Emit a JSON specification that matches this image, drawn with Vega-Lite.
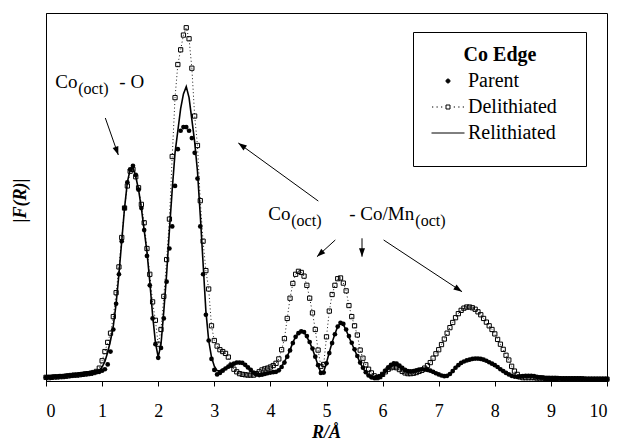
{
  "$schema": "https://vega.github.io/schema/vega-lite/v6.json",
  "width": 561,
  "height": 368,
  "autosize": {"type": "none"},
  "padding": {"left": 46, "top": 13, "right": 12, "bottom": 64},
  "background": "white",
  "config": {
    "view": {"stroke": "black", "strokeWidth": 1},
    "font": "Liberation Serif, Times New Roman, Times, DejaVu Serif, serif",
    "text": {"font": "Liberation Serif, Times New Roman, Times, DejaVu Serif, serif"},
    "axis": {"domainColor": "black", "tickColor": "black", "labelColor": "black", "titleColor": "black", "grid": false,
             "labelFont": "Liberation Serif, Times New Roman, Times, DejaVu Serif, serif",
             "titleFont": "Liberation Serif, Times New Roman, Times, DejaVu Serif, serif"},
    "legend": {"labelFont": "Liberation Serif, Times New Roman, Times, DejaVu Serif, serif",
               "titleFont": "Liberation Serif, Times New Roman, Times, DejaVu Serif, serif"}
  },
  "datasets": {
    "fr": [
      {"R":0,"Parent":1.0,"Delithiated":1.0,"Relithiated":1.0},
      {"R":0.05,"Parent":1.1,"Delithiated":0.9,"Relithiated":1.0},
      {"R":0.1,"Parent":1.1,"Delithiated":1.0,"Relithiated":1.1},
      {"R":0.15,"Parent":1.2,"Delithiated":1.1,"Relithiated":1.1},
      {"R":0.2,"Parent":1.2,"Delithiated":1.1,"Relithiated":1.2},
      {"R":0.25,"Parent":1.3,"Delithiated":1.2,"Relithiated":1.2},
      {"R":0.3,"Parent":1.3,"Delithiated":1.2,"Relithiated":1.3},
      {"R":0.35,"Parent":1.4,"Delithiated":1.3,"Relithiated":1.4},
      {"R":0.4,"Parent":1.5,"Delithiated":1.4,"Relithiated":1.5},
      {"R":0.45,"Parent":1.5,"Delithiated":1.5,"Relithiated":1.5},
      {"R":0.5,"Parent":1.6,"Delithiated":1.6,"Relithiated":1.6},
      {"R":0.55,"Parent":1.7,"Delithiated":1.6,"Relithiated":1.7},
      {"R":0.6,"Parent":1.8,"Delithiated":1.7,"Relithiated":1.8},
      {"R":0.65,"Parent":1.9,"Delithiated":1.8,"Relithiated":1.9},
      {"R":0.7,"Parent":2.0,"Delithiated":1.9,"Relithiated":2.0},
      {"R":0.75,"Parent":2.1,"Delithiated":2.0,"Relithiated":2.1},
      {"R":0.8,"Parent":2.2,"Delithiated":2.1,"Relithiated":2.2},
      {"R":0.85,"Parent":2.3,"Delithiated":2.3,"Relithiated":2.3},
      {"R":0.9,"Parent":2.4,"Delithiated":2.6,"Relithiated":2.5},
      {"R":0.95,"Parent":2.5,"Delithiated":3.5,"Relithiated":3.0},
      {"R":1.0,"Parent":2.8,"Delithiated":5.5,"Relithiated":3.8},
      {"R":1.05,"Parent":3.2,"Delithiated":8,"Relithiated":5.3},
      {"R":1.1,"Parent":4.5,"Delithiated":10.5,"Relithiated":7.8},
      {"R":1.15,"Parent":8,"Delithiated":13,"Relithiated":11},
      {"R":1.2,"Parent":14,"Delithiated":17.5,"Relithiated":15},
      {"R":1.25,"Parent":21,"Delithiated":24,"Relithiated":21},
      {"R":1.3,"Parent":29,"Delithiated":31,"Relithiated":29},
      {"R":1.35,"Parent":38,"Delithiated":39,"Relithiated":38},
      {"R":1.4,"Parent":47,"Delithiated":47,"Relithiated":47},
      {"R":1.45,"Parent":54,"Delithiated":53,"Relithiated":54},
      {"R":1.5,"Parent":57.5,"Delithiated":57,"Relithiated":57.5},
      {"R":1.55,"Parent":58.5,"Delithiated":57.5,"Relithiated":58},
      {"R":1.6,"Parent":56,"Delithiated":55.5,"Relithiated":55.5},
      {"R":1.65,"Parent":52,"Delithiated":52.5,"Relithiated":52},
      {"R":1.7,"Parent":47,"Delithiated":48,"Relithiated":47},
      {"R":1.75,"Parent":41,"Delithiated":43,"Relithiated":41},
      {"R":1.8,"Parent":34,"Delithiated":36,"Relithiated":35},
      {"R":1.85,"Parent":26,"Delithiated":29,"Relithiated":27},
      {"R":1.9,"Parent":17,"Delithiated":21.5,"Relithiated":18},
      {"R":1.95,"Parent":10,"Delithiated":16.5,"Relithiated":10.5},
      {"R":2.0,"Parent":6.3,"Delithiated":10,"Relithiated":6.5},
      {"R":2.05,"Parent":9,"Delithiated":14,"Relithiated":10},
      {"R":2.1,"Parent":17,"Delithiated":23,"Relithiated":19},
      {"R":2.15,"Parent":27,"Delithiated":33,"Relithiated":29},
      {"R":2.2,"Parent":36,"Delithiated":44,"Relithiated":41},
      {"R":2.25,"Parent":42,"Delithiated":61,"Relithiated":52},
      {"R":2.3,"Parent":53,"Delithiated":77,"Relithiated":62},
      {"R":2.35,"Parent":63,"Delithiated":86,"Relithiated":68},
      {"R":2.4,"Parent":68,"Delithiated":90,"Relithiated":74},
      {"R":2.45,"Parent":69,"Delithiated":94,"Relithiated":78},
      {"R":2.5,"Parent":69,"Delithiated":96,"Relithiated":80},
      {"R":2.55,"Parent":68,"Delithiated":93,"Relithiated":77},
      {"R":2.6,"Parent":66,"Delithiated":85,"Relithiated":71},
      {"R":2.65,"Parent":62,"Delithiated":72,"Relithiated":65},
      {"R":2.7,"Parent":55,"Delithiated":64,"Relithiated":57},
      {"R":2.75,"Parent":42,"Delithiated":49,"Relithiated":45},
      {"R":2.8,"Parent":29,"Delithiated":38,"Relithiated":32},
      {"R":2.85,"Parent":18,"Delithiated":30,"Relithiated":19},
      {"R":2.9,"Parent":11,"Delithiated":25,"Relithiated":11},
      {"R":2.95,"Parent":6,"Delithiated":15,"Relithiated":6.5},
      {"R":3.0,"Parent":3,"Delithiated":11,"Relithiated":4},
      {"R":3.05,"Parent":1.8,"Delithiated":9.5,"Relithiated":2.8},
      {"R":3.1,"Parent":2.2,"Delithiated":8.5,"Relithiated":2.8},
      {"R":3.15,"Parent":2.8,"Delithiated":8,"Relithiated":3.2},
      {"R":3.2,"Parent":3.4,"Delithiated":7.5,"Relithiated":3.6},
      {"R":3.25,"Parent":3.9,"Delithiated":6.5,"Relithiated":4},
      {"R":3.3,"Parent":4.3,"Delithiated":4.3,"Relithiated":4.4},
      {"R":3.35,"Parent":4.7,"Delithiated":3.2,"Relithiated":4.8},
      {"R":3.4,"Parent":5,"Delithiated":2.5,"Relithiated":5},
      {"R":3.45,"Parent":5,"Delithiated":2,"Relithiated":5},
      {"R":3.5,"Parent":4.9,"Delithiated":1.8,"Relithiated":4.8},
      {"R":3.55,"Parent":4.4,"Delithiated":1.7,"Relithiated":4.2},
      {"R":3.6,"Parent":3.7,"Delithiated":1.6,"Relithiated":3.5},
      {"R":3.65,"Parent":3,"Delithiated":1.6,"Relithiated":2.8},
      {"R":3.7,"Parent":2.3,"Delithiated":1.6,"Relithiated":2.1},
      {"R":3.75,"Parent":1.8,"Delithiated":2,"Relithiated":1.7},
      {"R":3.8,"Parent":1.6,"Delithiated":2.5,"Relithiated":1.6},
      {"R":3.85,"Parent":1.7,"Delithiated":3,"Relithiated":1.7},
      {"R":3.9,"Parent":1.9,"Delithiated":3.3,"Relithiated":1.9},
      {"R":3.95,"Parent":2.1,"Delithiated":3.5,"Relithiated":2.1},
      {"R":4.0,"Parent":2.3,"Delithiated":3.8,"Relithiated":2.3},
      {"R":4.05,"Parent":2.4,"Delithiated":4.2,"Relithiated":2.4},
      {"R":4.1,"Parent":2.5,"Delithiated":4.8,"Relithiated":2.5},
      {"R":4.15,"Parent":2.9,"Delithiated":6,"Relithiated":3},
      {"R":4.2,"Parent":3.8,"Delithiated":8.5,"Relithiated":4},
      {"R":4.25,"Parent":5,"Delithiated":11.5,"Relithiated":5.2},
      {"R":4.3,"Parent":6.6,"Delithiated":17,"Relithiated":6.8},
      {"R":4.35,"Parent":8.3,"Delithiated":22.5,"Relithiated":8.4},
      {"R":4.4,"Parent":10.3,"Delithiated":26.5,"Relithiated":10.5},
      {"R":4.45,"Parent":12,"Delithiated":29,"Relithiated":12},
      {"R":4.5,"Parent":13,"Delithiated":29.8,"Relithiated":13},
      {"R":4.55,"Parent":13.5,"Delithiated":29.5,"Relithiated":13.4},
      {"R":4.6,"Parent":13.3,"Delithiated":28.5,"Relithiated":13.2},
      {"R":4.65,"Parent":12.2,"Delithiated":26,"Relithiated":12},
      {"R":4.7,"Parent":10.6,"Delithiated":22.5,"Relithiated":10.5},
      {"R":4.75,"Parent":8.8,"Delithiated":18.5,"Relithiated":8.7},
      {"R":4.8,"Parent":6.6,"Delithiated":14,"Relithiated":6.5},
      {"R":4.85,"Parent":4.3,"Delithiated":8.4,"Relithiated":4.2},
      {"R":4.9,"Parent":2.2,"Delithiated":4,"Relithiated":2.2},
      {"R":4.95,"Parent":2.3,"Delithiated":4.5,"Relithiated":2.5},
      {"R":5.0,"Parent":4.8,"Delithiated":12,"Relithiated":5},
      {"R":5.05,"Parent":7.6,"Delithiated":19,"Relithiated":7.8},
      {"R":5.1,"Parent":10.3,"Delithiated":23.5,"Relithiated":10.5},
      {"R":5.15,"Parent":12.7,"Delithiated":26,"Relithiated":12.8},
      {"R":5.2,"Parent":14.8,"Delithiated":27.8,"Relithiated":14.8},
      {"R":5.25,"Parent":15.8,"Delithiated":28,"Relithiated":15.7},
      {"R":5.3,"Parent":15.5,"Delithiated":26.6,"Relithiated":15.3},
      {"R":5.35,"Parent":14,"Delithiated":24.5,"Relithiated":13.8},
      {"R":5.4,"Parent":12.2,"Delithiated":20.5,"Relithiated":12},
      {"R":5.45,"Parent":10.4,"Delithiated":17.5,"Relithiated":10.2},
      {"R":5.5,"Parent":8.6,"Delithiated":15,"Relithiated":8.5},
      {"R":5.55,"Parent":6.8,"Delithiated":12.5,"Relithiated":6.7},
      {"R":5.6,"Parent":5,"Delithiated":8.4,"Relithiated":4.9},
      {"R":5.65,"Parent":3.6,"Delithiated":6.2,"Relithiated":3.5},
      {"R":5.7,"Parent":2.4,"Delithiated":4.4,"Relithiated":2.3},
      {"R":5.75,"Parent":1.5,"Delithiated":3.2,"Relithiated":1.4},
      {"R":5.8,"Parent":1.0,"Delithiated":2.2,"Relithiated":1.0},
      {"R":5.85,"Parent":0.8,"Delithiated":1.4,"Relithiated":0.8},
      {"R":5.9,"Parent":0.9,"Delithiated":0.9,"Relithiated":0.8},
      {"R":5.95,"Parent":1.1,"Delithiated":1.2,"Relithiated":0.9},
      {"R":6.0,"Parent":1.8,"Delithiated":1.8,"Relithiated":1.6},
      {"R":6.05,"Parent":2.8,"Delithiated":2.5,"Relithiated":2.5},
      {"R":6.1,"Parent":3.7,"Delithiated":3.2,"Relithiated":3.3},
      {"R":6.15,"Parent":4.4,"Delithiated":3.6,"Relithiated":4},
      {"R":6.2,"Parent":4.8,"Delithiated":3.8,"Relithiated":4.3},
      {"R":6.25,"Parent":4.7,"Delithiated":3.6,"Relithiated":4.2},
      {"R":6.3,"Parent":4.2,"Delithiated":3.1,"Relithiated":3.7},
      {"R":6.35,"Parent":3.6,"Delithiated":2.6,"Relithiated":3.1},
      {"R":6.4,"Parent":3.0,"Delithiated":2.2,"Relithiated":2.7},
      {"R":6.45,"Parent":2.7,"Delithiated":2,"Relithiated":2.5},
      {"R":6.5,"Parent":2.6,"Delithiated":2,"Relithiated":2.6},
      {"R":6.55,"Parent":2.7,"Delithiated":2.1,"Relithiated":2.8},
      {"R":6.6,"Parent":2.9,"Delithiated":2.3,"Relithiated":3},
      {"R":6.65,"Parent":3.1,"Delithiated":2.6,"Relithiated":3.2},
      {"R":6.7,"Parent":3.2,"Delithiated":2.9,"Relithiated":3.2},
      {"R":6.75,"Parent":3.1,"Delithiated":3.5,"Relithiated":3.2},
      {"R":6.8,"Parent":3.0,"Delithiated":4.2,"Relithiated":3.1},
      {"R":6.85,"Parent":2.8,"Delithiated":5,"Relithiated":3.0},
      {"R":6.9,"Parent":2.5,"Delithiated":6.2,"Relithiated":2.6},
      {"R":6.95,"Parent":2.1,"Delithiated":7.4,"Relithiated":2.2},
      {"R":7.0,"Parent":1.8,"Delithiated":8.5,"Relithiated":1.8},
      {"R":7.05,"Parent":1.5,"Delithiated":9.9,"Relithiated":1.5},
      {"R":7.1,"Parent":1.3,"Delithiated":11.4,"Relithiated":1.3},
      {"R":7.15,"Parent":1.4,"Delithiated":13,"Relithiated":1.4},
      {"R":7.2,"Parent":1.9,"Delithiated":14.5,"Relithiated":2},
      {"R":7.25,"Parent":2.7,"Delithiated":15.9,"Relithiated":2.8},
      {"R":7.3,"Parent":3.6,"Delithiated":17.2,"Relithiated":3.7},
      {"R":7.35,"Parent":4.3,"Delithiated":18.3,"Relithiated":4.4},
      {"R":7.4,"Parent":4.9,"Delithiated":19.2,"Relithiated":4.9},
      {"R":7.45,"Parent":5.3,"Delithiated":19.8,"Relithiated":5.3},
      {"R":7.5,"Parent":5.6,"Delithiated":20.1,"Relithiated":5.6},
      {"R":7.55,"Parent":5.8,"Delithiated":20.1,"Relithiated":5.8},
      {"R":7.6,"Parent":6,"Delithiated":19.9,"Relithiated":6},
      {"R":7.65,"Parent":6.1,"Delithiated":19.5,"Relithiated":6.1},
      {"R":7.7,"Parent":6.1,"Delithiated":18.8,"Relithiated":6.1},
      {"R":7.75,"Parent":6,"Delithiated":18,"Relithiated":6},
      {"R":7.8,"Parent":5.8,"Delithiated":17,"Relithiated":5.8},
      {"R":7.85,"Parent":5.5,"Delithiated":16,"Relithiated":5.4},
      {"R":7.9,"Parent":5.1,"Delithiated":15,"Relithiated":5},
      {"R":7.95,"Parent":4.7,"Delithiated":14,"Relithiated":4.6},
      {"R":8.0,"Parent":4.3,"Delithiated":12.8,"Relithiated":4.2},
      {"R":8.05,"Parent":3.8,"Delithiated":11.3,"Relithiated":3.7},
      {"R":8.1,"Parent":3.2,"Delithiated":10,"Relithiated":3.1},
      {"R":8.15,"Parent":2.7,"Delithiated":8.6,"Relithiated":2.6},
      {"R":8.2,"Parent":2.2,"Delithiated":7,"Relithiated":2.1},
      {"R":8.25,"Parent":1.8,"Delithiated":5.7,"Relithiated":1.7},
      {"R":8.3,"Parent":1.4,"Delithiated":4,"Relithiated":1.3},
      {"R":8.35,"Parent":1.2,"Delithiated":2.7,"Relithiated":1.1},
      {"R":8.4,"Parent":1.1,"Delithiated":1.8,"Relithiated":1.1},
      {"R":8.45,"Parent":1.2,"Delithiated":1.1,"Relithiated":1.2},
      {"R":8.5,"Parent":1.3,"Delithiated":0.9,"Relithiated":1.3},
      {"R":8.55,"Parent":1.4,"Delithiated":0.9,"Relithiated":1.4},
      {"R":8.6,"Parent":1.4,"Delithiated":0.9,"Relithiated":1.4},
      {"R":8.65,"Parent":1.4,"Delithiated":0.9,"Relithiated":1.4},
      {"R":8.7,"Parent":1.3,"Delithiated":0.9,"Relithiated":1.3},
      {"R":8.75,"Parent":1.1,"Delithiated":0.8,"Relithiated":1.1},
      {"R":8.8,"Parent":1.0,"Delithiated":0.8,"Relithiated":1.0},
      {"R":8.85,"Parent":0.9,"Delithiated":0.8,"Relithiated":0.9},
      {"R":8.9,"Parent":0.8,"Delithiated":0.7,"Relithiated":0.8},
      {"R":8.95,"Parent":0.8,"Delithiated":0.7,"Relithiated":0.8},
      {"R":9.0,"Parent":0.7,"Delithiated":0.7,"Relithiated":0.7},
      {"R":9.05,"Parent":0.7,"Delithiated":0.7,"Relithiated":0.7},
      {"R":9.1,"Parent":0.7,"Delithiated":0.7,"Relithiated":0.7},
      {"R":9.15,"Parent":0.7,"Delithiated":0.6,"Relithiated":0.7},
      {"R":9.2,"Parent":0.6,"Delithiated":0.6,"Relithiated":0.6},
      {"R":9.25,"Parent":0.6,"Delithiated":0.6,"Relithiated":0.6},
      {"R":9.3,"Parent":0.6,"Delithiated":0.6,"Relithiated":0.6},
      {"R":9.35,"Parent":0.6,"Delithiated":0.6,"Relithiated":0.6},
      {"R":9.4,"Parent":0.6,"Delithiated":0.6,"Relithiated":0.6},
      {"R":9.45,"Parent":0.6,"Delithiated":0.6,"Relithiated":0.6},
      {"R":9.5,"Parent":0.6,"Delithiated":0.6,"Relithiated":0.6},
      {"R":9.55,"Parent":0.6,"Delithiated":0.6,"Relithiated":0.6},
      {"R":9.6,"Parent":0.6,"Delithiated":0.5,"Relithiated":0.6},
      {"R":9.65,"Parent":0.5,"Delithiated":0.5,"Relithiated":0.5},
      {"R":9.7,"Parent":0.5,"Delithiated":0.5,"Relithiated":0.5},
      {"R":9.75,"Parent":0.5,"Delithiated":0.5,"Relithiated":0.5},
      {"R":9.8,"Parent":0.5,"Delithiated":0.5,"Relithiated":0.5},
      {"R":9.85,"Parent":0.5,"Delithiated":0.5,"Relithiated":0.5},
      {"R":9.9,"Parent":0.5,"Delithiated":0.5,"Relithiated":0.5},
      {"R":9.95,"Parent":0.5,"Delithiated":0.5,"Relithiated":0.5},
      {"R":10.0,"Parent":0.5,"Delithiated":0.5,"Relithiated":0.5}
    ],
    "arrows": [
      {"id":1,"R":1.057,"F":71.47,"R2":1.289,"F2":61.41},
      {"id":2,"R":4.854,"F":48.9,"R2":3.428,"F2":64.67},
      {"id":3,"R":5.157,"F":38.32,"R2":4.83,"F2":33.78},
      {"id":4,"R":5.633,"F":38.78,"R2":5.633,"F2":33.78},
      {"id":5,"R":6.018,"F":38.32,"R2":7.416,"F2":24.27}
    ],
    "labels": [
      {"R":0.166,"F":79.6,"t":"Co","k":"main"},
      {"R":0.575,"F":78.0,"t":"(oct)","k":"sub"},
      {"R":1.307,"F":79.6,"t":"- O","k":"main"},
      {"R":3.963,"F":43.75,"t":"Co","k":"main"},
      {"R":4.372,"F":42.1,"t":"(oct)","k":"sub"},
      {"R":5.406,"F":43.75,"t":"- Co/Mn","k":"main"},
      {"R":6.583,"F":42.1,"t":"(oct)","k":"sub"}
    ]
  },
  "encoding": {
    "x": {
      "field": "R", "type": "quantitative",
      "scale": {"domain": [0, 10], "nice": false, "zero": false},
      "axis": {
        "title": "R/Å", "values": [0,1,2,3,4,5,6,7,8,9,10], "format": "d",
        "tickSize": 5, "labelPadding": 16, "labelFontSize": 18,
        "labelFont": "Liberation Serif, Times New Roman, Times, DejaVu Serif, serif",
        "titleFont": "Liberation Serif, Times New Roman, Times, DejaVu Serif, serif",
        "titleFontSize": 18, "titleFontWeight": "bold", "titleFontStyle": "italic",
        "titleX": 280, "titleY": 51, "titleBaseline": "middle", "titleAlign": "center"
      }
    },
    "y": {
      "field": "F", "type": "quantitative",
      "scale": {"domain": [0, 100], "nice": false, "zero": true},
      "axis": {
        "title": "|F(R)|", "labels": false, "ticks": false,
        "titleFont": "Liberation Serif, Times New Roman, Times, DejaVu Serif, serif",
        "titleFontSize": 18, "titleFontWeight": "bold", "titleFontStyle": "italic",
        "titleX": -26, "titleY": 187, "titleAngle": -90, "titleAlign": "center", "titleBaseline": "middle"
      }
    }
  },
  "layer": [
    {
      "data": {"name": "fr"},
      "transform": [{"fold": ["Parent", "Delithiated", "Relithiated"], "as": ["series", "F"]}, {"filter": "datum.series === 'Delithiated'"}],
      "mark": {"type": "line", "color": "black", "strokeWidth": 0.9, "strokeDash": [1, 2.5]}
    },
    {
      "data": {"name": "fr"},
      "transform": [{"fold": ["Parent", "Delithiated", "Relithiated"], "as": ["series", "F"]}, {"filter": "datum.series === 'Delithiated'"}],
      "mark": {"type": "point", "shape": "square", "size": 18, "filled": false, "stroke": "black", "strokeWidth": 1, "opacity": 1}
    },
    {
      "data": {"name": "fr"},
      "transform": [{"fold": ["Parent", "Delithiated", "Relithiated"], "as": ["series", "F"]}, {"filter": "datum.series === 'Relithiated'"}],
      "mark": {"type": "line", "color": "black", "strokeWidth": 1.6}
    },
    {
      "data": {"name": "fr"},
      "transform": [{"fold": ["Parent", "Delithiated", "Relithiated"], "as": ["series", "F"]}, {"filter": "datum.series === 'Parent'"}],
      "mark": {"type": "point", "shape": "circle", "size": 22, "filled": true, "color": "black", "opacity": 1}
    },
    {
      "data": {"name": "fr"},
      "transform": [{"fold": ["Parent", "Delithiated", "Relithiated"], "as": ["series", "F"]}, {"filter": "false"}],
      "mark": {"type": "point", "opacity": 1, "color": "black", "filled": false},
      "encoding": {
        "shape": {
          "field": "series", "type": "nominal",
          "scale": {
            "domain": ["Parent", "Delithiated", "Relithiated"],
            "range": [
              "M-0.4,0A0.4,0.4,0,1,1,0.4,0A0.4,0.4,0,1,1,-0.4,0M-0.28,0A0.28,0.28,0,1,1,0.28,0A0.28,0.28,0,1,1,-0.28,0M-0.16,0A0.16,0.16,0,1,1,0.16,0A0.16,0.16,0,1,1,-0.16,0M-0.4,0H0.4M0,-0.4V0.4M24.6,0",
              "M-3.2,0H-2.95M-2.3,0H-2.05M-1.4,0H-1.15M-0.4,-0.4H0.4V0.4H-0.4ZM1.15,0H1.4M2.05,0H2.3M2.95,0H3.2",
              "M-3.3,0H3.3M0,3.6"
            ]
          },
          "legend": {
            "title": "Co Edge", "orient": "none", "legendX": 367, "legendY": 19,
            "titleFontSize": 20, "titleFontWeight": "bold", "titleColor": "black", "titleAnchor": "middle", "titlePadding": 6,
            "labelFontSize": 20, "labelColor": "black", "labelOffset": 10,
            "symbolSize": 100, "symbolStrokeColor": "black", "symbolStrokeWidth": 1, "symbolOffset": 12,
            "rowPadding": 6, "padding": 13, "strokeColor": "black", "fillColor": "white",
            "encode": {
              "symbols": {"update": {"stroke": {"value": "black"}, "strokeWidth": {"value": 1}}}
            }
          }
        }
      }
    },
    {
      "data": {"name": "arrows"},
      "mark": {"type": "rule", "color": "black", "strokeWidth": 1},
      "encoding": {"x2": {"field": "R2"}, "y2": {"field": "F2"}}
    },
    {
      "data": {"name": "arrows"},
      "transform": [{"filter": "datum.id === 1"}],
      "mark": {"type": "point", "shape": "M0,0L-0.6,1.7L0.6,1.7Z", "size": 100, "filled": true, "color": "black", "opacity": 1, "angle": 160.6},
      "encoding": {"x": {"field": "R2", "type": "quantitative"}, "y": {"field": "F2", "type": "quantitative"}}
    },
    {
      "data": {"name": "arrows"},
      "transform": [{"filter": "datum.id === 2"}],
      "mark": {"type": "point", "shape": "M0,0L-0.6,1.7L0.6,1.7Z", "size": 100, "filled": true, "color": "black", "opacity": 1, "angle": 305.9},
      "encoding": {"x": {"field": "R2", "type": "quantitative"}, "y": {"field": "F2", "type": "quantitative"}}
    },
    {
      "data": {"name": "arrows"},
      "transform": [{"filter": "datum.id === 3"}],
      "mark": {"type": "point", "shape": "M0,0L-0.6,1.7L0.6,1.7Z", "size": 100, "filled": true, "color": "black", "opacity": 1, "angle": 227.6},
      "encoding": {"x": {"field": "R2", "type": "quantitative"}, "y": {"field": "F2", "type": "quantitative"}}
    },
    {
      "data": {"name": "arrows"},
      "transform": [{"filter": "datum.id === 4"}],
      "mark": {"type": "point", "shape": "M0,0L-0.6,1.7L0.6,1.7Z", "size": 100, "filled": true, "color": "black", "opacity": 1, "angle": 180},
      "encoding": {"x": {"field": "R2", "type": "quantitative"}, "y": {"field": "F2", "type": "quantitative"}}
    },
    {
      "data": {"name": "arrows"},
      "transform": [{"filter": "datum.id === 5"}],
      "mark": {"type": "point", "shape": "M0,0L-0.6,1.7L0.6,1.7Z", "size": 100, "filled": true, "color": "black", "opacity": 1, "angle": 123.4},
      "encoding": {"x": {"field": "R2", "type": "quantitative"}, "y": {"field": "F2", "type": "quantitative"}}
    },
    {
      "data": {"name": "labels"},
      "transform": [{"filter": "datum.k === 'main'"}],
      "mark": {"type": "text", "font": "Liberation Serif, Times New Roman, Times, DejaVu Serif, serif", "fontSize": 19, "align": "left", "baseline": "alphabetic", "color": "black"},
      "encoding": {"text": {"field": "t"}}
    },
    {
      "data": {"name": "labels"},
      "transform": [{"filter": "datum.k === 'sub'"}],
      "mark": {"type": "text", "font": "Liberation Serif, Times New Roman, Times, DejaVu Serif, serif", "fontSize": 16, "align": "left", "baseline": "alphabetic", "color": "black"},
      "encoding": {"text": {"field": "t"}}
    }
  ]
}
